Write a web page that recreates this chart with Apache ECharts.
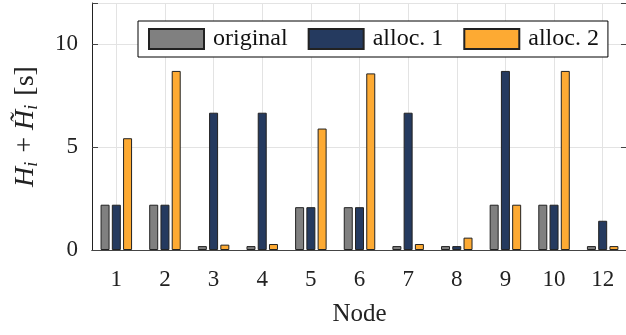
<!DOCTYPE html>
<html><head><meta charset="utf-8">
<script src="https://cdn.jsdelivr.net/npm/echarts@6/dist/echarts.min.js"></script>
<style>html,body{margin:0;padding:0;background:#fff}#c{width:626px;height:335px}</style>
</head><body><div id="c"></div>
<script>
const categories = ['1','2','3','4','5','6','7','8','9','10','12'];
const original = [2.2, 2.2, 0.19, 0.19, 2.08, 2.08, 0.19, 0.19, 2.2, 2.2, 0.19];
const alloc1   = [2.2, 2.2, 6.67, 6.67, 2.08, 2.08, 6.67, 0.19, 8.7, 2.2, 1.42];
const alloc2   = [5.43, 8.7, 0.26, 0.29, 5.9, 8.58, 0.29, 0.6, 2.2, 8.7, 0.19];
const yTicks = [0, 5, 10];
const seriesNames = ['original', 'alloc. 1', 'alloc. 2'];
const colors = ['#808080', '#253a5f', '#fdaa33'];

const font = 'Liberation Serif';
const chart = echarts.init(document.getElementById('c'));
const barStyle = c => ({color: c, borderColor: '#222', borderWidth: 1});
const mkBar = (name, data, c) => ({
  name, type: 'bar', data, barWidth: 9, barGap: '25%', itemStyle: barStyle(c), z: 3
});
chart.setOption({
  animation: false,
  textStyle: {fontFamily: font},
  grid: {left: 92, top: 3, width: 535, height: 247, outerBoundsMode: 'none', containLabel: false},
  legend: {
    left: 138, top: 21, padding: [6, 9, 6, 10], itemGap: 20,
    itemWidth: 55, itemHeight: 20, icon: 'rect',
    backgroundColor: '#fff', borderColor: '#000', borderWidth: 1,
    textStyle: {fontFamily: font, fontSize: 24, color: '#111', padding: [0, 0, 0, 4]},
    data: seriesNames
  },
  xAxis: [{
    type: 'category', data: categories, position: 'bottom',
    name: 'Node', nameLocation: 'middle', nameGap: 52,
    nameTextStyle: {fontFamily: font, fontSize: 25, color: '#222'},
    axisLine: {lineStyle: {color: '#222', width: 1}},
    axisTick: {show: false},
    axisLabel: {fontFamily: font, fontSize: 23, color: '#222', margin: 18},
    splitLine: {show: true, alignWithLabel: true, lineStyle: {color: '#e3e3e3', width: 1}}
  }, {
    type: 'category', data: categories, position: 'top',
    axisLine: {lineStyle: {color: '#444', width: 1}},
    axisTick: {inside: true, alignWithLabel: true, length: 6, lineStyle: {color: '#444'}},
    axisLabel: {show: false}, splitLine: {show: false}
  }],
  yAxis: [{
    type: 'value', min: 0, max: 12, interval: 5,
    name: '{h|H}{s|i}{p| + }{h|H\u0303}{s|i}{p| [s]}',
    nameLocation: 'middle', nameGap: 51,
    nameTextStyle: {
      fontFamily: font, color: '#222',
      rich: {
        h: {fontFamily: font, fontStyle: 'italic', fontSize: 28, color: '#222'},
        s: {fontFamily: font, fontStyle: 'italic', fontSize: 18, color: '#222', verticalAlign: 'bottom', padding: [12, 2, 0, 0]},
        p: {fontFamily: font, fontSize: 28, color: '#222'}
      }
    },
    axisLine: {show: true, lineStyle: {color: '#222'}},
    axisTick: {show: true, inside: true, length: 6, lineStyle: {color: '#444'}},
    axisLabel: {fontFamily: font, fontSize: 23, color: '#222', margin: 14,
      formatter: v => yTicks.includes(v) ? String(v) : ''},
    splitLine: {show: true, lineStyle: {color: '#e3e3e3', width: 1}}
  }, {
    type: 'value', min: 0, max: 12, interval: 5, position: 'right',
    axisLine: {show: true, lineStyle: {color: '#444'}},
    axisTick: {show: true, inside: true, length: 6, lineStyle: {color: '#444'}},
    axisLabel: {show: false}, splitLine: {show: false}
  }],
  series: [
    mkBar(seriesNames[0], original, colors[0]),
    mkBar(seriesNames[1], alloc1, colors[1]),
    mkBar(seriesNames[2], alloc2, colors[2])
  ]
});
</script></body></html>
